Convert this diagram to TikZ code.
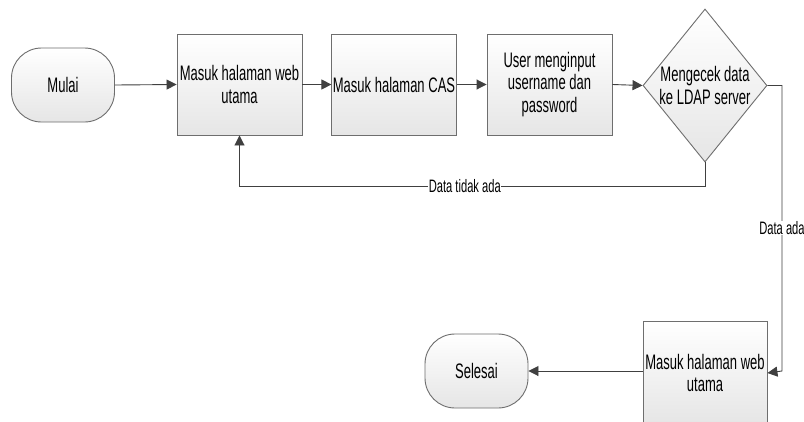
\documentclass[tikz,border=0pt]{standalone}
\usepackage{fontspec}
\setmainfont{Liberation Sans}[FakeStretch=0.62]
\usetikzlibrary{arrows.meta,shapes.geometric,calc}
\definecolor{linec}{HTML}{404040}
\definecolor{edgec}{HTML}{6E6E6E}
\begin{document}
\begin{tikzpicture}[x=1pt,y=-1pt,
  every node/.style={font=\fontsize{21}{22.5}\selectfont, text=black},
  procbox/.style={draw=edgec, line width=0.9pt, top color=white, bottom color=black!10,
    shading angle=0, align=center, inner sep=1pt},
  term/.style={draw=edgec, line width=0.9pt, rounded corners=30pt, top color=white, bottom color=black!10,
    minimum width=103pt, minimum height=74pt},
  decide/.style={draw=edgec, line width=0.9pt, diamond, top color=white, bottom color=black!10,
    inner sep=0pt},
  flow/.style={draw=linec, line width=0.9pt, -{Triangle[length=10pt,width=10pt]}},
  lbl/.style={fill=white, inner sep=0.5pt, font=\fontsize{18}{19}\selectfont}]
\useasboundingbox (0,0) rectangle (804,421);
\fill[white] (0,0) rectangle (804,421);

\node[term] (mulai) at (63,85) {Mulai};
\node[procbox, minimum width=125pt, minimum height=101pt] (b1) at (239.5,84.5) {Masuk halaman web\\utama};
\node[procbox, minimum width=124pt, minimum height=101pt] (b2) at (394,84.5) {Masuk halaman CAS};
\node[procbox, minimum width=125pt, minimum height=101pt] (b3) at (549.5,84.5) {User menginput\\username dan\\password};
\node[decide, minimum width=124pt, minimum height=153pt] (d) at (705,85.5) {};
\node[align=center, inner sep=0pt] (dtext) at (d.center) {Mengecek data\\ke LDAP server};
\node[procbox, minimum width=124pt, minimum height=104pt] (b4) at (705,373) {Masuk halaman web\\utama};
\node[term] (selesai) at (476.5,371) {Selesai};

\coordinate (c1) at (705,186);
\coordinate (c2) at (239.5,186);
\coordinate (c3) at (782,85.5);
\coordinate (c4) at (782,371);

\draw[flow] (mulai.east) -- (b1.west);
\draw[flow] (b1.east) -- (b2.west);
\draw[flow] (b2.east) -- (b3.west);
\draw[flow] (b3.east) -- (d.west);
\draw[flow] (d.south) -- (c1) -- node[lbl, pos=0.516] (l1) {Data tidak ada} (c2) -- (b1.south);
\draw[flow] (d.east) -- (c3) -- node[lbl, pos=0.5] (l2) {Data ada} (c4) -- (b4.east);
\draw[flow] (b4.west |- selesai.east) -- (selesai.east);
\end{tikzpicture}
\end{document}
